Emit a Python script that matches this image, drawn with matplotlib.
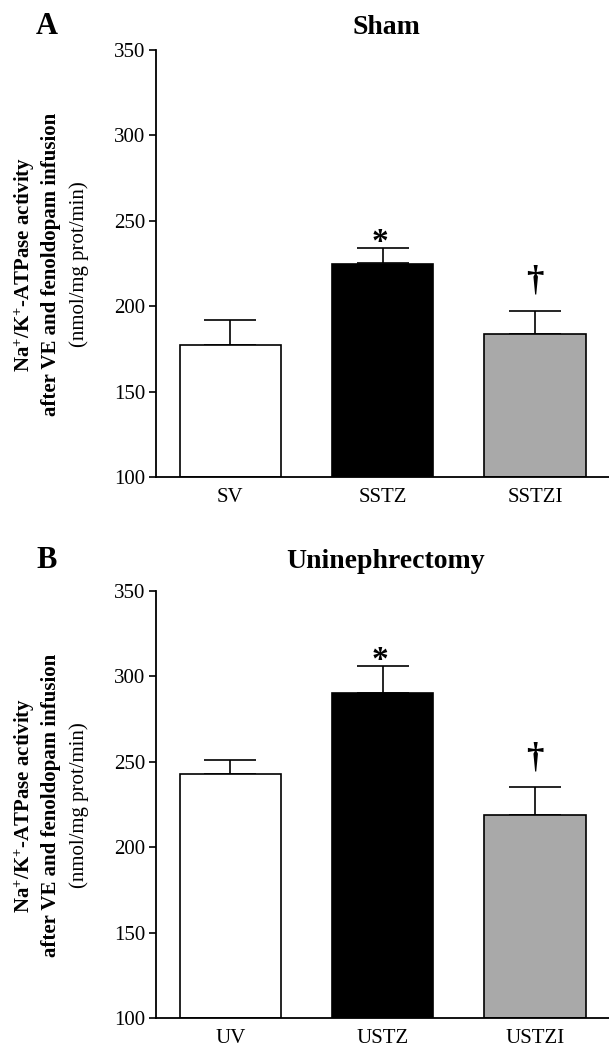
import matplotlib
matplotlib.use("Agg")
import matplotlib.pyplot as plt

plt.rcParams['font.family'] = ['Liberation Serif', 'DejaVu Serif']
plt.rcParams['mathtext.fontset'] = 'custom'
plt.rcParams['mathtext.rm'] = 'Liberation Serif'
plt.rcParams['mathtext.bf'] = 'Liberation Serif:bold'
plt.rcParams['mathtext.it'] = 'Liberation Serif:italic'
plt.rcParams['mathtext.default'] = 'bf'

# Data
sham_labels = ["SV", "SSTZ", "SSTZI"]
sham_means = [177, 225, 184]
sham_sem = [15, 9, 13]
sham_marks = ["", "*", "\u2020"]

uni_labels = ["UV", "USTZ", "USTZI"]
uni_means = [243, 290, 219]
uni_sem = [8, 16, 16]
uni_marks = ["", "*", "\u2020"]

bar_colors = ["white", "black", "#a9a9a9"]
yticks = [100, 150, 200, 250, 300, 350]

W, H = 609, 1047
fig = plt.figure(figsize=(W / 100, H / 100), dpi=100)

def draw_panel(ax_rect, labels, means, sems, marks, title, letter, letter_y, title_y):
    ax = fig.add_axes(ax_rect)
    x = list(range(len(labels)))
    ax.bar(x, [m - 100 for m in means], bottom=100, width=0.665,
           color=bar_colors, edgecolor="black", linewidth=1.2, zorder=2)
    for xi, m, s in zip(x, means, sems):
        ax.errorbar(xi, m, yerr=[[0], [s]], fmt="none", ecolor="black",
                    elinewidth=1.2, capsize=18.5, capthick=1.2, zorder=1)
    for xi, m, s, mk in zip(x, means, sems, marks):
        if mk == "*":
            ax.text(xi - 0.02, m + s - 1.5, mk, ha="center", va="baseline",
                    fontsize=24, fontweight="bold")
        elif mk:
            ax.text(xi, m + s + 12.5, mk, ha="center", va="baseline",
                    fontsize=25, fontweight="bold")
    ax.set_xlim(-0.49, 2.485)
    ax.set_ylim(100, 350)
    ax.set_yticks(yticks)
    ax.set_yticklabels([str(t) for t in yticks], fontsize=15)
    ax.set_xticks(x)
    ax.set_xticklabels(labels, fontsize=15)
    ax.tick_params(axis="x", length=0, pad=8)
    ax.tick_params(axis="y", length=5, width=1.2, pad=2.5, direction="out")
    for sp in ["top", "right"]:
        ax.spines[sp].set_visible(False)
    for sp in ["left", "bottom"]:
        ax.spines[sp].set_linewidth(1.3)
    ax.patch.set_alpha(0)
    # titles
    fig.text(386 / W, 1 - title_y / H, title, ha="center", va="center",
             fontsize=20, fontweight="bold")
    fig.text(46.5 / W, 1 - letter_y / H, letter, ha="center", va="center",
             fontsize=22, fontweight="bold")
    # y label (three lines)
    top_px = (1 - ax_rect[1] - ax_rect[3]) * H
    bot_px = (1 - ax_rect[1]) * H
    cy = 1 - ((top_px + bot_px) / 2 + 1) / H
    fig.text(25 / W, cy, "Na$^{+}$/K$^{+}$-ATPase activity", rotation=90,
             ha="center", va="center", fontsize=15, fontweight="bold")
    fig.text(51 / W, cy, "after VE and fenoldopam infusion", rotation=90,
             ha="center", va="center", fontsize=15, fontweight="bold")
    fig.text(79 / W, cy, "(nmol/mg prot/min)", rotation=90,
             ha="center", va="center", fontsize=15)
    return ax

h = 427 / H
draw_panel([155.5 / W, 1 - 477 / H, 453.5 / W, h], sham_labels, sham_means,
           sham_sem, sham_marks, "Sham", "A", 27, 27)
draw_panel([155.5 / W, 1 - 1018 / H, 453.5 / W, h], uni_labels, uni_means,
           uni_sem, uni_marks, "Uninephrectomy", "B", 561, 561)

fig.savefig("out.png", dpi=100)
